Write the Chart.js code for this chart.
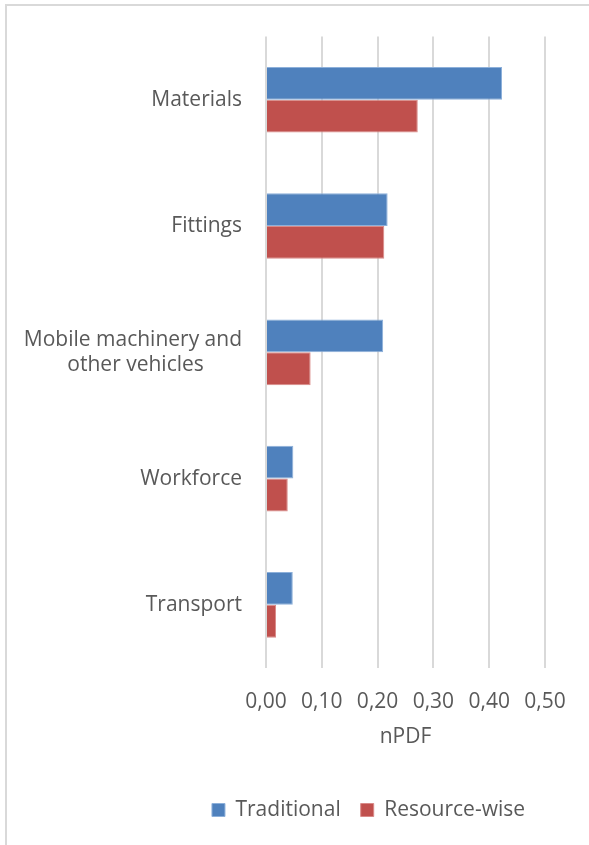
<!DOCTYPE html>
<html>
<head>
<meta charset="utf-8">
<script src="https://cdn.jsdelivr.net/npm/chart.js@4/dist/chart.umd.min.js"></script>
<style>
  html, body { margin: 0; padding: 0; background: #ffffff; }
  #wrap { position: relative; width: 589px; height: 845px; overflow: hidden; }
  #frame { position: absolute; left: 5px; top: 4px; width: 700px; height: 900px;
           border-left: 2px solid #d9d9d9; border-top: 2px solid #d9d9d9; }
  canvas { position: absolute; left: 0; top: 0; }
</style>
</head>
<body>
<div id="wrap">
  <div id="frame"></div>
  <canvas id="c" width="589" height="845"></canvas>
</div>
<script>
const categories = ["Materials", "Fittings", ["Mobile machinery and", "other vehicles"], "Workforce", "Transport"];
const traditional = [0.423, 0.218, 0.210, 0.049, 0.048];
const resourceWise = [0.272, 0.212, 0.080, 0.039, 0.018];
const seriesNames = ["Traditional", "Resource-wise"];
const xTicks = [0, 0.1, 0.2, 0.3, 0.4, 0.5];
const xTitle = "nPDF";

const FONT = "'Open Sans', sans-serif";
const TEXT = "#595959";
const LABEL_SIZE = 21;

// Centre the lines of a multi-line category label on each other (as Excel does),
// while the whole label stays right-aligned against the axis.
const measureCtx = document.createElement('canvas').getContext('2d');
function centreLines(label) {
  if (!Array.isArray(label)) return label;
  measureCtx.font = LABEL_SIZE + "px 'Open Sans', sans-serif";
  const sp = measureCtx.measureText(' ').width;
  const widths = label.map(l => measureCtx.measureText(l).width);
  const widest = Math.max(...widths);
  return label.map((l, i) => l + ' '.repeat(Math.round((widest - widths[i]) / 2 / sp)));
}

const legendShift = {
  id: 'legendShift',
  afterUpdate(chart) {
    if (chart.legend) { chart.legend.left += 96; chart.legend.right += 96; }
  }
};

new Chart(document.getElementById('c'), {
  type: 'bar',
  data: {
    labels: categories,
    datasets: [
      { label: seriesNames[0], data: traditional, backgroundColor: '#4F81BD', borderColor: '#8DB0DA', borderWidth: 1 },
      { label: seriesNames[1], data: resourceWise, backgroundColor: '#C0504D', borderColor: '#D98A88', borderWidth: 1 }
    ]
  },
  options: {
    indexAxis: 'y',
    responsive: false,
    animation: false,
    devicePixelRatio: 1,
    layout: { padding: { top: 34, right: 44, left: 0, bottom: 14.5 } },
    datasets: { bar: { barPercentage: 1.0, categoryPercentage: 0.52 } },
    scales: {
      x: {
        min: 0, max: 0.5,
        afterBuildTicks: s => { s.ticks = xTicks.map(v => ({ value: v })); },
        afterFit: s => { s.height = 111.5; },
        grid: { color: '#d9d9d9', lineWidth: 2, drawTicks: false },
        border: { display: false },
        ticks: {
          padding: 21,
          color: TEXT,
          font: { family: FONT, size: LABEL_SIZE },
          callback: v => Number(v).toFixed(2).replace('.', ',')
        },
        title: { display: true, text: xTitle, color: TEXT, font: { family: FONT, size: LABEL_SIZE }, padding: { top: 4, bottom: 29.5 } }
      },
      y: {
        afterFit: s => { s.width = 266; },
        grid: { display: false, drawTicks: false },
        border: { display: false },
        ticks: {
          padding: 24, color: TEXT, font: { family: FONT, size: LABEL_SIZE },
          callback: function (v, i) { return centreLines(categories[i]); }
        }
      }
    },
    plugins: {
      legend: {
        position: 'bottom',
        labels: { boxWidth: 13, boxHeight: 13, padding: 20, color: TEXT, font: { family: FONT, size: LABEL_SIZE } }
      },
      tooltip: { enabled: false }
    }
  },
  plugins: [legendShift]
});
</script>
</body>
</html>
